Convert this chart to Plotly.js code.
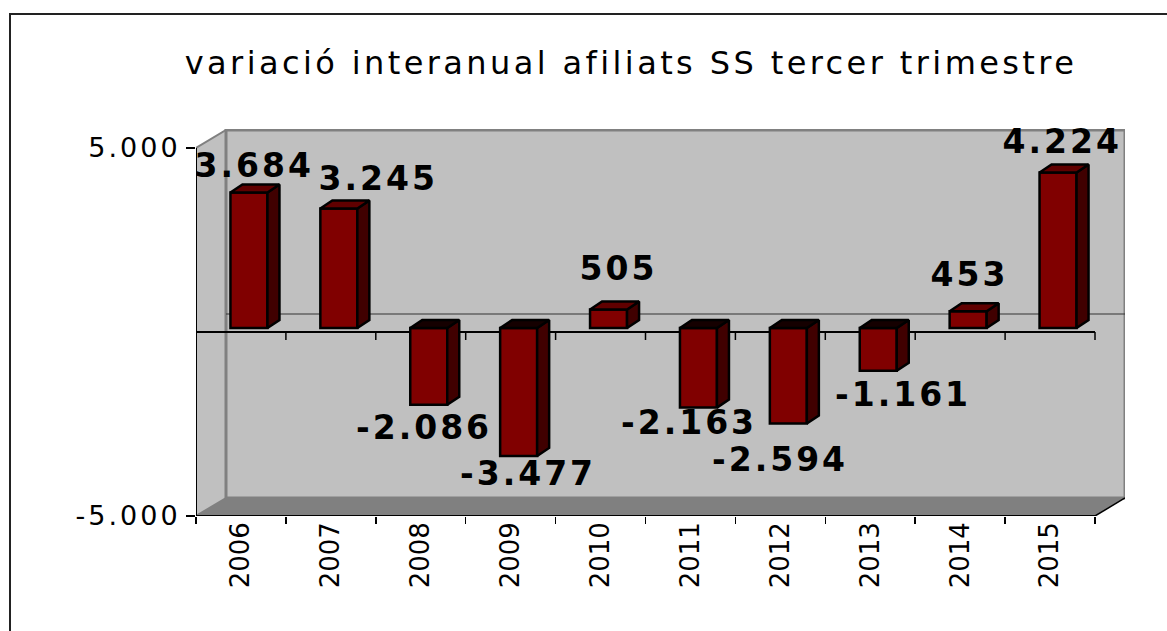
<!DOCTYPE html>
<html>
<head>
<meta charset="utf-8">
<script src="https://cdn.plot.ly/plotly-3.0.1.min.js"></script>
<style>
  html, body { margin: 0; padding: 0; background: #ffffff; overflow: hidden; }
  #wrap { position: relative; width: 1167px; height: 631px; }
  #chart { position: absolute; left: 0; top: 0; width: 1167px; height: 631px; }
  #frame { position: absolute; left: 9px; top: 13px; width: 1300px; height: 800px;
           border-left: 2px solid #222; border-top: 2px solid #222; pointer-events: none; }
  #chart .gtitle { letter-spacing: 3.4px; }
  #chart .annotation-text { letter-spacing: 3px; }
  #chart .ytick text { letter-spacing: 3px; }
</style>
</head>
<body>
<div id="wrap">
  <div id="chart"></div>
  <div id="frame"></div>
</div>
<script>
// ---- data ----
const years = ['2006', '2007', '2008', '2009', '2010', '2011', '2012', '2013', '2014', '2015'];
const values = [3684, 3245, -2086, -3477, 505, -2163, -2594, -1161, 453, 4224];
const yTickValues = [-5000, 5000];
const chartTitle = 'variació interanual afiliats SS tercer trimestre';

// label nudges in screen px [right, down] relative to the bar value point
const labelNudge = [[12, -31], [46, -34], [2, 19], [16, 14], [16, -45],
                    [-3, 11], [-2, 32], [31, 20], [8, -41], [10, -35]];

function fmt(v) {
  const s = Math.abs(v).toString().replace(/\B(?=(\d{3})+(?!\d))/g, '.');
  return (v < 0 ? '-' : '') + s;
}

// ---- geometry (pixels) ----
const W = 1167, H = 631;
const L = 196, R = 1125, T = 129, B = 516;
const nCat = years.length;
const catPx = (1095 - L) / nCat;        // px per category
const unitPx = (B - 148) / 10000;       // px per value unit
const xMax = (R - L) / catPx;
const yMin = -5000, yMax = yMin + (B - T) / unitPx;
const wx = 30 / catPx, wy = 18 / unitPx;      // back wall depth
const bx0 = 8 / catPx, by0 = 4 / unitPx;      // bar front offset
const ddx = 12 / catPx, ddy = 8 / unitPx;     // bar depth
const barW = 37 / catPx;

const traces = [];
// front faces
traces.push({
  type: 'bar',
  x: years.map((_, i) => i + 0.5 + bx0),
  y: values,
  base: values.map(() => by0),
  width: barW,
  marker: { color: '#800000', line: { color: '#000000', width: 2.5 } },
  hoverinfo: 'skip',
  xaxis: 'x', yaxis: 'y'
});
// top and side faces
values.forEach((v, i) => {
  const xl = i + 0.5 + bx0 - barW / 2, xr = i + 0.5 + bx0 + barW / 2;
  const ytop = Math.max(by0, by0 + v), ybot = Math.min(by0, by0 + v);
  traces.push({
    type: 'scatter', mode: 'lines', fill: 'toself',
    x: [xr, xr, xr + ddx, xr + ddx, xr],
    y: [ybot, ytop, ytop + ddy, ybot + ddy, ybot],
    fillcolor: '#400000', line: { color: '#000000', width: 2.5 },
    hoverinfo: 'skip', showlegend: false
  });
  traces.push({
    type: 'scatter', mode: 'lines', fill: 'toself',
    x: [xl, xl + ddx, xr + ddx, xr, xl],
    y: [ytop, ytop + ddy, ytop + ddy, ytop, ytop],
    fillcolor: v >= 0 ? '#600000' : '#150000', line: { color: '#000000', width: 2.5 },
    hoverinfo: 'skip', showlegend: false
  });
});

// ---- walls, floor, axes lines (shapes) ----
const shapes = [];
function path(pts) {
  return 'M' + pts.map(p => p[0] + ',' + p[1]).join(' L') + ' Z';
}
// left wall
shapes.push({ type: 'path', layer: 'below', xref: 'x', yref: 'y',
  path: path([[0, -5000], [0, 5000], [wx, 5000 + wy], [wx, -5000 + wy]]),
  fillcolor: '#C0C0C0', line: { color: '#808080', width: 2 } });
// back wall
shapes.push({ type: 'rect', layer: 'below', xref: 'x', yref: 'y',
  x0: wx, x1: wx + nCat, y0: -5000 + wy, y1: 5000 + wy,
  fillcolor: '#C0C0C0', line: { color: '#808080', width: 3 } });
// floor
shapes.push({ type: 'path', layer: 'below', xref: 'x', yref: 'y',
  path: path([[0, -5000], [wx, -5000 + wy], [wx + nCat, -5000 + wy], [nCat, -5000]]),
  fillcolor: '#808080', line: { width: 0 } });
// back gridline at zero
shapes.push({ type: 'line', layer: 'below', xref: 'x', yref: 'y',
  x0: wx, x1: wx + nCat, y0: wy, y1: wy, line: { color: '#333333', width: 1.2 } });
// front zero line
shapes.push({ type: 'line', layer: 'below', xref: 'x', yref: 'y',
  x0: 0, x1: nCat, y0: 0, y1: 0, line: { color: '#000000', width: 2 } });
// ticks on the zero line
for (let k = 1; k <= nCat; k++) {
  shapes.push({ type: 'line', layer: 'below', xref: 'x', yref: 'y',
    x0: k, x1: k, y0: 0, y1: -8 / unitPx, line: { color: '#000000', width: 1.5 } });
}
// front y axis line
shapes.push({ type: 'line', layer: 'above', xref: 'x', yref: 'y',
  x0: 0, x1: 0, y0: -5000, y1: 5000, line: { color: '#000000', width: 2 } });
// bottom front edge (x axis)
shapes.push({ type: 'line', layer: 'above', xref: 'x', yref: 'y',
  x0: 0, x1: nCat, y0: -5000, y1: -5000, line: { color: '#000000', width: 2 } });
// floor right diagonal
shapes.push({ type: 'line', layer: 'above', xref: 'x', yref: 'y',
  x0: nCat, x1: nCat + wx, y0: -5000, y1: -5000 + wy, line: { color: '#000000', width: 1.5 } });

// ---- data labels ----
const annotations = values.map((v, i) => ({
  xref: 'x', yref: 'y', x: i + 0.5, y: v,
  text: '<b>' + fmt(v) + '</b>', showarrow: false,
  xanchor: 'center', yanchor: 'middle',
  xshift: labelNudge[i][0] + 1.5, yshift: -labelNudge[i][1],
  font: { family: 'DejaVu Sans', size: 33, color: '#000000' }
}));

const layout = {
  width: W, height: H,
  margin: { l: L, r: W - R, t: T, b: H - B, pad: 0 },
  paper_bgcolor: 'rgba(0,0,0,0)', plot_bgcolor: 'rgba(0,0,0,0)',
  showlegend: false,
  title: {
    text: chartTitle,
    font: { family: 'DejaVu Sans', size: 32, color: '#000000' },
    xref: 'paper', x: (631 - L) / (R - L), xanchor: 'center',
    yref: 'container', y: 1 - 63 / H, yanchor: 'middle'
  },
  xaxis: {
    type: 'linear', range: [0, xMax], fixedrange: true,
    tickmode: 'array', tickvals: years.map((_, i) => i).concat([nCat]),
    ticks: 'outside', ticklen: 7, tickwidth: 1.5, tickcolor: '#000000',
    showticklabels: false, showgrid: false, zeroline: false, showline: false
  },
  xaxis2: {
    type: 'linear', range: [0, xMax], overlaying: 'x', anchor: 'y', side: 'bottom',
    tickmode: 'array', tickvals: years.map((_, i) => i + 0.5), ticktext: years,
    ticks: '', tickangle: -90, showgrid: false, zeroline: false, showline: false,
    tickfont: { family: 'DejaVu Sans', size: 26, color: '#000000' }
  },
  yaxis: {
    type: 'linear', range: [yMin, yMax], fixedrange: true,
    tickmode: 'array', tickvals: yTickValues, ticktext: yTickValues.map(fmt),
    ticks: 'outside', ticklen: 9, tickwidth: 2, tickcolor: '#000000',
    tickfont: { family: 'DejaVu Sans', size: 27, color: '#000000' },
    showgrid: false, zeroline: false, showline: false
  },
  shapes: shapes,
  annotations: annotations,
  bargap: 0
};

// a dummy trace on xaxis2 so its labels draw
traces.push({ type: 'scatter', mode: 'markers', x: [0.5], y: [0], xaxis: 'x2', yaxis: 'y',
  marker: { opacity: 0 }, hoverinfo: 'skip', showlegend: false });

Plotly.newPlot('chart', traces, layout, { displayModeBar: false, staticPlot: true });
</script>
</body>
</html>
